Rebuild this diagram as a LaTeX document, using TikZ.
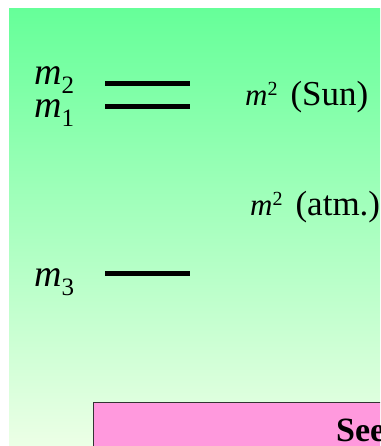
\documentclass[tikz,border=0pt]{standalone}
\usepackage{fontspec}
\setmainfont{Liberation Serif}
\definecolor{topg}{RGB}{102,255,153}
\definecolor{botg}{RGB}{236,255,230}
\definecolor{pinkbox}{RGB}{255,153,221}
\tikzset{
  lbl/.style={anchor=base west, inner sep=0pt, font=\fontsize{38}{38}\selectfont},
  txt/.style={anchor=base west, inner sep=0pt, font=\fontsize{35}{35}\selectfont},
  level/.style={line width=5pt, black},
}
\newcommand{\mlab}[1]{\textit{m}\raisebox{-9pt}{\fontsize{25}{25}\selectfont #1}}
\newcommand{\msq}{{\fontsize{31}{31}\selectfont\textit{m}}\raisebox{10pt}{\fontsize{20}{20}\selectfont 2}}
\begin{document}
\begin{tikzpicture}[x=1pt,y=1pt]
\useasboundingbox (0,0) rectangle (380,446);
\clip (0,0) rectangle (380,446);
\fill[white] (0,0) rectangle (380,446);
\shade[top color=topg, bottom color=botg] (9,0) rectangle (380,437);
% level lines
\coordinate (l2a) at (105,362.7); \coordinate (l2b) at (190,362.7);
\coordinate (l1a) at (105,339);   \coordinate (l1b) at (190,339);
\coordinate (l3a) at (105,172);   \coordinate (l3b) at (190,172);
\draw[level] (l2a) -- (l2b);
\draw[level] (l1a) -- (l1b);
\draw[level] (l3a) -- (l3b);
% labels
\node[lbl] (m2) at (34,361) {\mlab{2}};
\node[lbl] (m1) at (34,328) {\mlab{1}};
\node[lbl] (m3) at (34,159) {\mlab{3}};
\node[txt] (sun) at (245,340) {\msq\hspace{13pt}(Sun)};
\node[txt] (atm) at (250,230) {\msq\hspace{13pt}(atm.)};
% pink box
\draw[fill=pinkbox, draw=black!80, line width=1pt] (93,43) rectangle (420,-20);
\node[anchor=base west, inner sep=0pt, font=\fontsize{34}{34}\selectfont\bfseries] (see) at (336,5) {See};
\end{tikzpicture}
\end{document}
